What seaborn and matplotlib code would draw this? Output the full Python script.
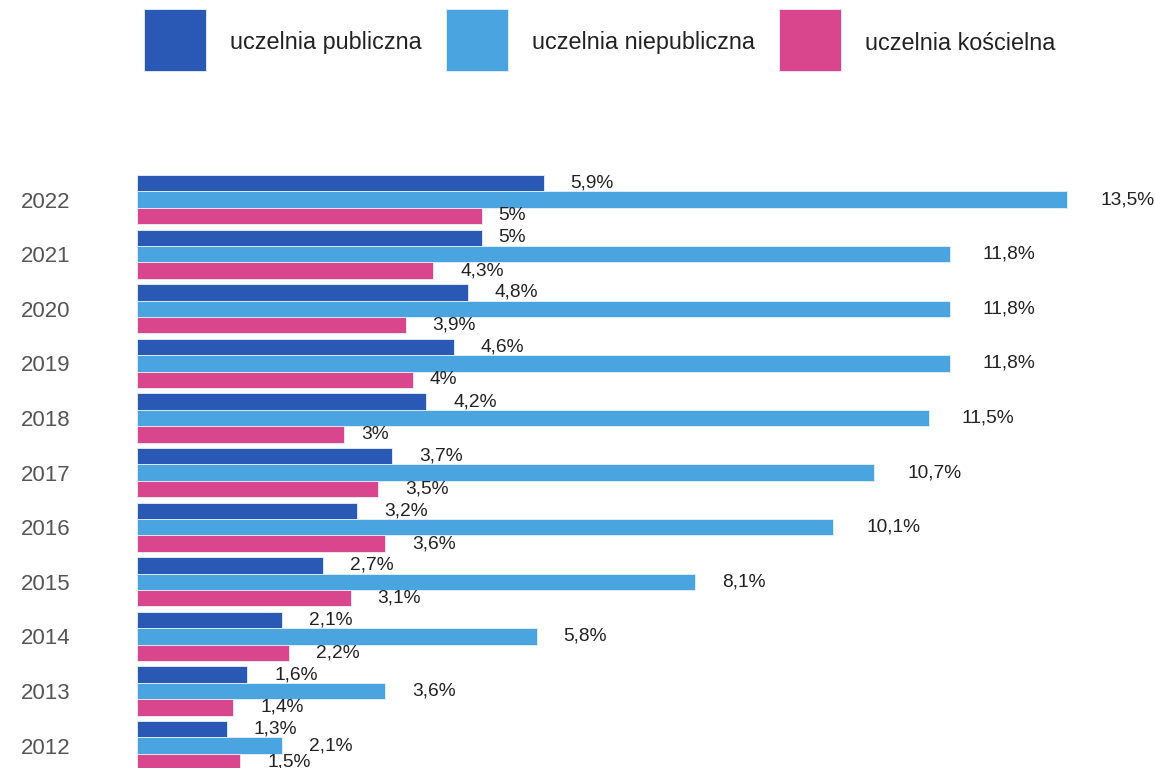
import pandas as pd
import seaborn as sns
import matplotlib.pyplot as plt
from matplotlib.patches import Rectangle

# Data (share in %)
years = ['2022', '2021', '2020', '2019', '2018', '2017', '2016', '2015', '2014', '2013', '2012']
publiczna = [5.9, 5.0, 4.8, 4.6, 4.2, 3.7, 3.2, 2.7, 2.1, 1.6, 1.3]
niepubliczna = [13.5, 11.8, 11.8, 11.8, 11.5, 10.7, 10.1, 8.1, 5.8, 3.6, 2.1]
koscielna = [5.0, 4.3, 3.9, 4.0, 3.0, 3.5, 3.6, 3.1, 2.2, 1.4, 1.5]
series_names = ['uczelnia publiczna', 'uczelnia niepubliczna', 'uczelnia kościelna']
colors = ['#2a59b5', '#4aa4df', '#d9468d']

df = pd.DataFrame({
    'rok': years * 3,
    'typ': [series_names[0]] * len(years) + [series_names[1]] * len(years) + [series_names[2]] * len(years),
    'wartosc': publiczna + niepubliczna + koscielna,
})

sns.set_style('white')
plt.rcParams['font.family'] = ['Liberation Sans', 'DejaVu Sans']

W, H = 1155, 768
fig = plt.figure(figsize=(W / 100, H / 100), dpi=100)
ax = fig.add_axes([137 / W, 0, 1018 / W, 618 / H])

sns.barplot(data=df, y='rok', x='wartosc', hue='typ', order=years, hue_order=series_names,
            palette=colors, saturation=1, orient='h', width=0.9, edgecolor='#e8f0fa',
            linewidth=0.6, legend=False, ax=ax)

ax.set_xlim(0, 1018 / 68.9)
ax.set_ylim(10.41, -0.907)
ax.set_xlabel('')
ax.set_ylabel('')
ax.set_xticks([])
sns.despine(ax=ax, left=True, bottom=True)
ax.tick_params(axis='y', length=0, pad=48, labelsize=16, labelcolor='#555555')

# value labels
labels = []
for container, vals in zip(ax.containers, [publiczna, niepubliczna, koscielna]):
    for bar, v in zip(container, vals):
        txt = f'{v:g}'.replace('.', ',') + '%'
        t = ax.annotate(txt, (bar.get_width(), bar.get_y() + bar.get_height() / 2),
                        xytext=(0, 0), textcoords='offset pixels', ha='left', va='center',
                        fontsize=13.8, color='#222222', annotation_clip=False)
        labels.append(t)

fig.canvas.draw()
r = fig.canvas.get_renderer()
for t in labels:
    w = t.get_window_extent(r).width
    t.xyann = (0.62 * w, 0)

# legend: squares + text in a row
x = 144
sq = 62
for name, c in zip(series_names, colors):
    fig.add_artist(Rectangle((x / W, 1 - 71 / H), sq / W, sq / H, transform=fig.transFigure,
                             facecolor=c, edgecolor='#e8f0fa', linewidth=0.6))
    t = fig.text((x + sq + 24) / W, 1 - 43 / H, name, fontsize=16.8, color='#222222',
                 ha='left', va='center')
    tw = t.get_window_extent(r).width
    x = x + sq + 24 + tw + 24

plt.savefig('out.png', dpi=100)
